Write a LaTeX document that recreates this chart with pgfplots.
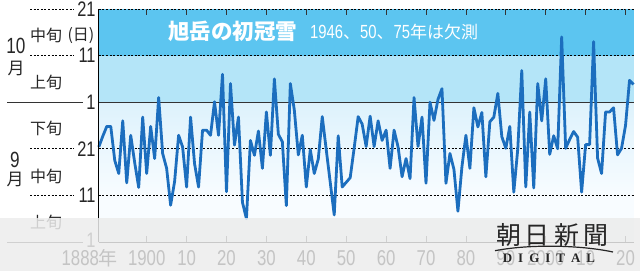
\documentclass[border=0pt]{standalone}
\usepackage{fontspec}
\setmainfont{Liberation Sans}
\newfontfamily\numfont{Liberation Sans}[FakeStretch=0.78]
\newfontfamily\jp{Noto Sans CJK JP}
\newfontfamily\logofont{Liberation Serif}
\usepackage{pgfplots}
\usepackage{pgfplotstable}
\pgfplotsset{compat=1.18}
\definecolor{bandA}{RGB}{92,197,240}
\definecolor{bandB}{RGB}{180,229,248}
\definecolor{bandC}{RGB}{221,242,252}
\definecolor{bandD}{RGB}{248,252,255}
\definecolor{lineblue}{RGB}{28,110,190}
\definecolor{ticklab}{RGB}{196,196,196}
\newcommand{\fs}[1]{\fontsize{#1}{#1}\selectfont}
\tikzset{dashline/.style={black, line width=0.8bp, dash pattern=on 2bp off 1.6bp}}

\pgfplotstableread{
year v
1888 20.4
1889 22.7
1890 24.8
1891 24.8
1892 17.5
1893 14.7
1894 26.0
1895 12.7
1896 22.9
1897 17.0
1898 11.7
1899 26.8
1900 14.7
1901 24.8
1902 17.9
1903 31.0
1904 19.0
1905 15.8
1906 7.9
1907 13.0
1908 22.9
1909 20.4
1910 11.8
1911 26.8
1912 16.8
1913 11.8
1914 24.0
1915 24.0
1916 22.9
1917 30.1
1918 22.9
1919 36.0
1920 10.8
1921 34.0
1922 20.8
1923 26.8
1924 8.5
1925 5.0
1926 21.8
1927 18.6
1928 23.8
1929 15.8
1930 27.9
1931 18.6
1932 35.0
1933 23.1
1934 21.5
1935 7.8
1936 34.0
1937 28.3
1938 18.7
1939 22.9
1940 11.8
1941 19.8
1942 14.7
1943 17.8
1944 26.9
1945 19.8
1947 5.8
1948 22.8
1949 11.8
1951 13.8
1952 20.2
1953 26.9
1954 25.3
1955 20.5
1956 27.0
1957 20.5
1958 26.0
1959 21.8
1960 24.0
1961 15.8
1962 24.0
1963 20.4
1964 14.0
1965 17.9
1966 13.6
1967 31.0
1968 20.5
1969 26.8
1970 12.6
1971 30.0
1972 26.1
1973 30.6
1974 32.9
1975 12.6
1976 19.0
1977 15.6
1978 6.6
1979 16.1
1980 22.9
1981 15.8
1982 28.8
1983 24.7
1984 27.8
1985 14.0
1986 25.8
1987 26.8
1988 31.9
1989 22.6
1990 20.1
1991 24.8
1992 10.7
1993 20.0
1994 36.8
1995 11.8
1996 27.9
1997 11.6
1998 34.0
1999 26.0
2000 35.0
2001 18.8
2002 22.8
2003 20.0
2004 44.0
2005 20.1
2006 22.0
2007 23.7
2008 22.5
2009 10.7
2010 20.9
2011 20.9
2012 43.0
2013 18.0
2014 14.7
2015 27.9
2016 27.9
2017 28.8
2018 18.7
2019 20.1
2020 25.0
2021 34.7
2022 33.8
}\snowdata

\begin{document}
\begin{tikzpicture}
\useasboundingbox (0,0) rectangle (640bp,271bp);
\begin{axis}[
  at={(98.8bp,29bp)}, anchor=south west,
  scale only axis, width=534.7bp, height=233bp,
  xmin=1888, xmax=2022, ymin=0, ymax=50,
  axis line style={draw=none},
  clip=false, axis on top,
  xtick={1900,1910,1920,1930,1940,1950,1960,1970,1980,1990,2000,2010,2020},
  xticklabels={},
  xtick style={draw=black!80, line width=0.7bp},
  major tick length=6bp, tick align=inside,
  ytick={0,10,20,30,40,50},
  yticklabels={\raisebox{4bp}{1},11,21,1,11,\raisebox{-2.5bp}{21}},
  ytick style={draw=none},
  yticklabel style={font=\numfont\fs{21bp}, text=black!85, anchor=east, inner sep=0pt, xshift=-3bp},
]
\fill[bandD] (axis cs:1888,0) rectangle (axis cs:2022,10);
\shade[top color=bandC, bottom color=bandD] (axis cs:1888,10) rectangle (axis cs:2022,30);
\fill[bandB] (axis cs:1888,30) rectangle (axis cs:2022,40);
\fill[bandA] (axis cs:1888,40) rectangle (axis cs:2022,50);
\draw[dashline] (axis cs:1888,50) -- (axis cs:2022,50);
\draw[dashline] (axis cs:1888,40) -- (axis cs:2022,40);
\draw[dashline] (axis cs:1888,20) -- (axis cs:2022,20);
\draw[dashline] (axis cs:1888,10) -- (axis cs:2022,10);
\draw[black!80, line width=0.8bp] (axis cs:1888,30) -- (axis cs:2022,30);
\draw[black, line width=0.8bp] (axis cs:1888,0) -- (axis cs:2022,0);
\addplot[lineblue, line width=2.8bp, line join=round, no marks] table[x=year,y=v]{\snowdata};
\draw[black, line width=1bp] (axis cs:1888,0) -- (axis cs:1888,50);
\end{axis}

\begin{scope}[x=1bp,y=1bp]
% left margin lines
\draw[dashline] (30,262) -- (74,262);
\draw[dashline] (30,215.4) -- (74,215.4);
\draw[dashline] (30,122.2) -- (74,122.2);
\draw[dashline] (30,75.6) -- (74,75.6);
\draw[black!80, line width=0.9bp] (7,168.8) -- (83,168.8);
\draw[black!80, line width=0.9bp] (7,29) -- (83,29);

% month and decade labels
\node[font=\numfont\fs{22bp}, text=black!85] at (16,225) {10};
\node[font=\jp\fs{17bp}, text=black!85] at (16,203) {月};
\node[font=\numfont\fs{22bp}, text=black!85] at (15,111) {9};
\node[font=\jp\fs{17bp}, text=black!85] at (15,92) {月};
\node[font=\jp\fs{16bp}, text=black!85] at (46,236) {中旬};
\node[font=\jp\fs{16bp}, text=black!85] at (81,235) {(日)};
\node[font=\jp\fs{16bp}, text=black!85] at (46,189) {上旬};
\node[font=\jp\fs{16bp}, text=black!85] at (46,143) {下旬};
\node[font=\jp\fs{16bp}, text=black!85] at (46,95) {中旬};
\node[font=\jp\fs{16bp}, text=black!85] at (46,49) {上旬};

% title
\node[anchor=base west, text=white, inner sep=0pt, font=\jp\bfseries\fs{21.5bp}] at (168,232) {旭岳の初冠雪};
\node[anchor=base west, text=white, inner sep=0pt] at (310,233) {{\numfont\fs{19bp}1946}{\jp\fs{17bp}、}{\numfont\fs{19bp}50}{\jp\fs{17bp}、}{\numfont\fs{19bp}75}{\jp\fs{17bp}年は欠測}};

% fade overlay at the bottom
\fill[black!7.5, opacity=0.85] (0,0) rectangle (640,52.7);
\end{scope}

% x tick labels
\begin{axis}[
  at={(98.8bp,29bp)}, anchor=south west,
  scale only axis, width=534.7bp, height=233bp,
  xmin=1888, xmax=2022, ymin=0, ymax=50,
  axis line style={draw=none},
  ytick=\empty,
  xtick={1888,1900,1910,1920,1930,1940,1950,1960,1970,1980,1990,2000,2010,2020},
  xticklabels={{{\numfont 1888}{\jp\fs{19bp}年}\hspace*{18bp}},1900,10,20,30,40,50,60,70,80,90,2000,10,20},
  tick style={draw=none},
  xticklabel style={anchor=center, yshift=-16.5bp, text=ticklab, font=\numfont\fs{21.5bp}},
]
\end{axis}

\begin{scope}[x=1bp,y=1bp]
% logo
\node[font=\jp\fs{25bp}, text=black!85] at (552,36) {朝\hspace{4bp}日\hspace{4bp}新\hspace{4bp}聞};
\draw[black!85, line width=1.2bp] (495,20.3) .. controls (530,27) and (580,26) .. (613,19);
\node[font=\logofont\bfseries\fs{13bp}, text=black!85] at (549,12.5) {D\hspace{6bp}I\hspace{6bp}G\hspace{6bp}I\hspace{6bp}T\hspace{6bp}A\hspace{6bp}L};
\end{scope}
\end{tikzpicture}
\end{document}
